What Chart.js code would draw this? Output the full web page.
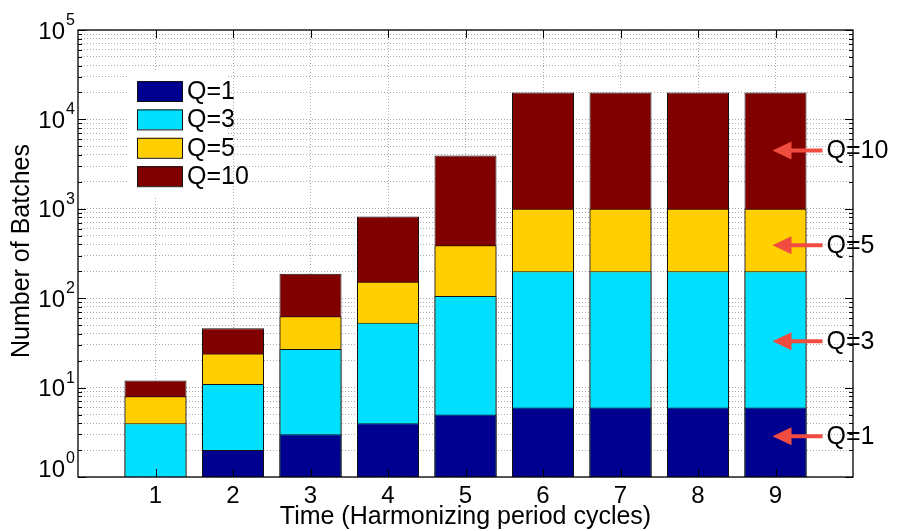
<!DOCTYPE html>
<html>
<head>
<meta charset="utf-8">
<script src="https://cdn.jsdelivr.net/npm/chart.js@4/dist/chart.umd.min.js"></script>
<style>
  html, body { margin: 0; padding: 0; background: #fff; }
  #wrap { width: 897px; height: 531px; position: relative; }
</style>
</head>
<body>
<div id="wrap"><canvas id="c" width="897" height="531"></canvas></div>
<script>
// Number of batches per harmonizing cycle, one series per Q
const cycles = [1, 2, 3, 4, 5, 6, 7, 8, 9];
const q1  = [1, 2, 3, 4, 5, 6, 6, 6, 6];
const q3  = [4, 11, 27, 53, 106, 200, 200, 200, 200];
const q5  = [8, 24, 63, 153, 391, 1000, 1000, 1000, 1000];
const q10 = [12, 46, 188, 818, 3940, 20000, 20000, 20000, 20000];
const seriesNames = ['Q=1', 'Q=3', 'Q=5', 'Q=10'];
const yDecades = [0, 1, 2, 3, 4, 5];

// Callouts pointing into the last bar
const calloutNames  = ['Q=10', 'Q=5', 'Q=3', 'Q=1'];
const calloutLevels = [4500, 390, 33, 2.85];
const calloutCycle  = 9;

const seriesValues = [q1, q3, q5, q10];
const seriesColors = ['#00008f', '#00dfff', '#ffcf00', '#800000'];
const FONT = "Helvetica, 'Liberation Sans', Arial, sans-serif";

const datasets = seriesNames.map((name, s) => ({
  label: name,
  data: cycles.map((c, i) => ({ x: c, y: seriesValues[s][i] })),
  backgroundColor: seriesColors[s],
  borderColor: '#111',
  borderWidth: 1,
  borderSkipped: 'start',
  grouped: false,
  barPercentage: 0.8,
  categoryPercentage: 1.0
}));

const gridColor = 'rgba(0,0,0,0.33)';

const decorations = {
  id: 'decorations',
  afterDatasetsDraw(chart) {
    const ctx = chart.ctx;
    const { left, right, top, bottom } = chart.chartArea;
    const xs = chart.scales.x, ys = chart.scales.y;
    ctx.save();

    // legend box
    ctx.fillStyle = '#fff';
    ctx.fillRect(127, 72, 100, 124);
    ctx.font = '25px ' + FONT;
    ctx.textBaseline = 'middle';
    ctx.textAlign = 'left';
    seriesNames.forEach((name, i) => {
      const y = 81 + i * 28.4;
      ctx.fillStyle = seriesColors[i];
      ctx.fillRect(137, y, 45, 20);
      ctx.strokeStyle = '#111';
      ctx.lineWidth = 1;
      ctx.strokeRect(137.5, y + 0.5, 45, 20);
      ctx.fillStyle = '#000';
      ctx.fillText(name, 187, y + 11);
    });

    // axes box
    ctx.strokeStyle = '#000';
    ctx.lineWidth = 1.3;
    ctx.strokeRect(left, top, right - left, bottom - top);

    // y tick marks (inward, both sides)
    ctx.lineWidth = 1;
    ys.ticks.forEach(t => {
      const y = Math.round(ys.getPixelForValue(t.value)) + 0.5;
      const len = t.major ? 8 : 4;
      ctx.beginPath();
      ctx.moveTo(left, y); ctx.lineTo(left + len, y);
      ctx.moveTo(right, y); ctx.lineTo(right - len, y);
      ctx.stroke();
    });
    // x tick marks (inward, top and bottom)
    cycles.forEach(c => {
      const x = Math.round(xs.getPixelForValue(c)) + 0.5;
      ctx.beginPath();
      ctx.moveTo(x, bottom); ctx.lineTo(x, bottom - 8);
      ctx.moveTo(x, top); ctx.lineTo(x, top + 8);
      ctx.stroke();
    });

    // y tick labels: 10^n
    ctx.fillStyle = '#000';
    yDecades.forEach(n => {
      const y = ys.getPixelForValue(Math.pow(10, n));
      const cy = Math.min(y + 2, bottom - 7);
      ctx.font = '24px ' + FONT;
      ctx.textAlign = 'right';
      ctx.textBaseline = 'middle';
      ctx.fillText('10', 65, cy);
      ctx.font = '16px ' + FONT;
      ctx.textAlign = 'left';
      ctx.textBaseline = 'alphabetic';
      ctx.fillText(String(n), 66, cy - 7);
    });

    // x tick labels
    ctx.font = '24px ' + FONT;
    ctx.textAlign = 'center';
    ctx.textBaseline = 'alphabetic';
    cycles.forEach(c => {
      ctx.fillText(String(c), xs.getPixelForValue(c), 503);
    });

    // axis titles
    ctx.font = '25px ' + FONT;
    ctx.fillText('Time (Harmonizing period cycles)', (left + right) / 2, 524);
    ctx.save();
    ctx.translate(22, 251);
    ctx.rotate(-Math.PI / 2);
    ctx.textBaseline = 'middle';
    ctx.fillText('Number of Batches', 0, 0);
    ctx.restore();

    // callout arrows
    const tipX = xs.getPixelForValue(calloutCycle) - 3;
    calloutNames.forEach((name, i) => {
      const y = ys.getPixelForValue(calloutLevels[i]);
      ctx.fillStyle = '#f04c40';
      ctx.strokeStyle = '#f04c40';
      ctx.lineWidth = 4;
      ctx.beginPath();
      ctx.moveTo(tipX + 15, y); ctx.lineTo(tipX + 50, y);
      ctx.stroke();
      ctx.beginPath();
      ctx.moveTo(tipX, y);
      ctx.lineTo(tipX + 19, y - 9);
      ctx.lineTo(tipX + 19, y + 9);
      ctx.closePath();
      ctx.fill();
      ctx.fillStyle = '#000';
      ctx.font = '25px ' + FONT;
      ctx.textAlign = 'left';
      ctx.textBaseline = 'middle';
      ctx.fillText(name, tipX + 54, y + 1);
    });

    ctx.restore();
  }
};

new Chart(document.getElementById('c'), {
  type: 'bar',
  data: { datasets },
  options: {
    responsive: false,
    animation: false,
    devicePixelRatio: 1,
    layout: { padding: { left: 78, right: 44, top: 30, bottom: 54 } },
    plugins: { legend: { display: false }, tooltip: { enabled: false } },
    scales: {
      x: {
        type: 'linear',
        min: 0,
        max: 10,
        offset: false,
        afterBuildTicks: s => { s.ticks = cycles.map(v => ({ value: v })); },
        ticks: { display: false },
        grid: { color: gridColor, lineWidth: 1, drawTicks: false, offset: false },
        border: { display: false, dash: [1, 2] }
      },
      y: {
        type: 'logarithmic',
        min: 1,
        max: 100000,
        afterBuildTicks: s => {
          const t = [];
          yDecades.forEach(n => {
            const base = Math.pow(10, n);
            t.push({ value: base, major: true });
            if (n < yDecades[yDecades.length - 1]) {
              for (let k = 2; k <= 9; k++) t.push({ value: k * base, major: false });
            }
          });
          s.ticks = t;
        },
        ticks: { display: false },
        grid: { color: gridColor, lineWidth: 1, drawTicks: false },
        border: { display: false, dash: [1, 2] }
      }
    }
  },
  plugins: [decorations]
});
</script>
</body>
</html>
